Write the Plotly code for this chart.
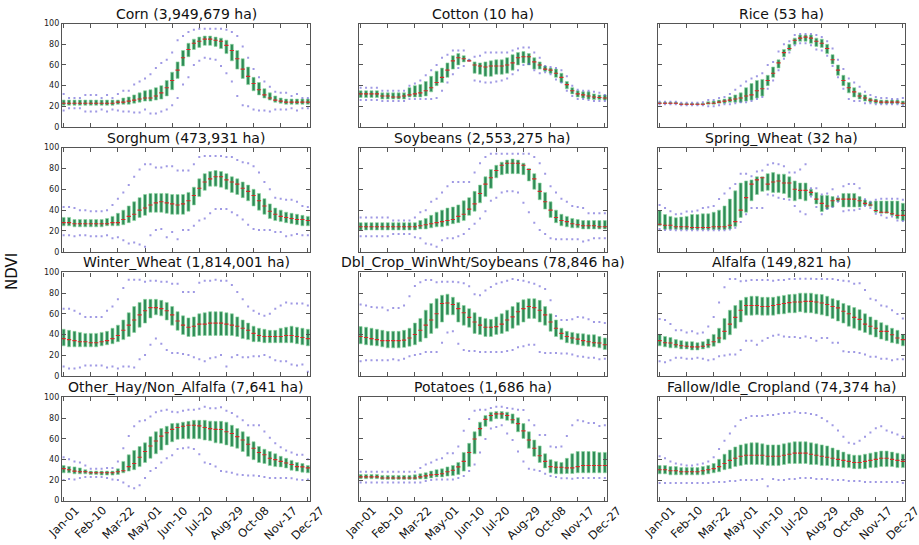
import plotly.graph_objects as go

tick_labels = ["Jan-01", "Feb-10", "Mar-22", "May-01", "Jun-10", "Jul-20", "Aug-29", "Oct-08", "Nov-17", "Dec-27"]
tick_positions = [0, 5, 10, 15, 20, 25, 30, 35, 40, 45]
steps = list(range(46))

titles = ["Corn (3,949,679 ha)", "Cotton (10 ha)", "Rice (53 ha)",
          "Sorghum (473,931 ha)", "Soybeans (2,553,275 ha)", "Spring_Wheat (32 ha)",
          "Winter_Wheat (1,814,001 ha)", "Dbl_Crop_WinWht/Soybeans (78,846 ha)", "Alfalfa (149,821 ha)",
          "Other_Hay/Non_Alfalfa (7,641 ha)", "Potatoes (1,686 ha)", "Fallow/Idle_Cropland (74,374 ha)"]

# ---------------- Corn
corn_med = [23,23,23,23,23,23,23,23,23,23, 24,24,25,26,27,28,28,30,33,38, 45,55,67,75,81,83,85,85,84,83, 79,74,66,56,49,42,36,31,28,26, 25,24,24,24,24,24]
corn_q1 = [21,21,21,21,21,21,21,21,21,21, 22,22,22,23,24,25,25,26,27,30, 36,47,59,68,75,77,79,79,78,76, 71,64,56,47,41,35,31,28,26,24, 23,22,22,22,22,22]
corn_q3 = [26,26,26,26,26,26,26,26,26,26, 26,28,29,31,33,35,36,38,40,45, 53,63,74,81,85,87,88,88,87,86, 84,80,74,66,58,48,43,37,33,30, 28,27,27,27,27,27]
corn_hi = [32,28,28,28,31,31,31,28,31,28, 32,35,35,41,44,47,51,57,62,65, 72,84,88,92,94,95,95,95,95,95, 94,92,88,78,67,56,48,44,39,34, 33,33,30,32,28,28]
corn_lo = [16,18,18,18,15,15,15,17,15,17, 16,15,15,14,14,17,13,13,15,17, 21,28,41,48,60,64,67,66,65,59, 52,44,30,21,20,17,16,16,15,17, 17,17,18,16,18,18]

# ---------------- Cotton
cotton_med = [32,32,32,32,30,30,29,29,30,31, 32,33,35,38,43,48,55,64,67,66, 64,60,59,58,59,59,59,60,62,67, 68,68,63,60,56,55,52,48,41,35, 32,31,30,29,28.5,28]
cotton_q1 = [28.5,28.5,28.5,28.5,27,27,27,27,27,29, 29,29,30,34,40,43,48,56,60,63, 64,52,51,49,49,51,51,52,55,60, 62,60,56,56,54,52,48,43,37,32, 29,28,27,26.5,26.5,26]
cotton_q3 = [35,35,35,35,33,33,33,33,33,38, 40,41,44,49,54,57,62,69,71,69, 65,63,62,63,64,65,65,67,70,72, 73,71,67,63,59,57,56,52,44,38, 35,34,34,32,31,31]
cotton_hi = [38,38,38,38,35,35,35,35,35,40, 42,45,50,55,60,67,70,74,74,74, 65,68,69,72,72,72,72,72,74,76, 77,77,72,67,59,58,57,55,49,40, 36,35,35,34,33,31]
cotton_lo = [26,26,26,26,25,25,25,25,25,27, 27,27,27,27,28,35,43,51,57,59, 64,45,44,43,43,44,45,47,51,55, 60,61,55,52,53,51,46,43,35,30, 27,27,26,25,25,25]

# ---------------- Rice
rice_med = [23,23,23,23,22,22,22,22,22,23, 23,24,25,26,27,28,30,31,35,37, 45,52,62,72,76,84,86,87,86,83, 81,76,65,55,45,38,34,30,28,26, 25,24,24,24,24,23]
rice_q1 = [22.5,22.5,22.5,22.5,21.5,21.5,21.5,21.5,21.5,22, 22,23,23,24,24,24,25,26,28,30, 40,48,57,68,74,80,83,83,81,78, 77,71,61,50,40,33,29,27,25,24, 23,22.5,22.5,22.5,22.5,22]
rice_q3 = [24,24,24,24,23,23,23,23,23,24.5, 25,26,27,29,31,33,38,42,45,46, 50,58,65,75,80,86,89,89,89,86, 85,80,70,60,50,43,38,33,31,28, 27,26,26,26,26,25]
rice_hi = [24.5,24.5,24.5,24.5,23.5,23.5,23.5,23.5,24,26, 26,28,29,32,36,40,44,47,49,52, 60,63,73,80,83,89,90,90,90,89, 87,83,76,65,56,47,43,39,34,31, 29,28,28,27,27,28]
rice_lo = [22,22,22,22,21,21,21,21,21,20, 20,21,22,22,23,24,24,25,27,29, 37,45,55,66,72,79,81,81,79,75, 74,69,59,48,37,27,25,25,23,23, 22,22,22,22,22,21]

# ---------------- Sorghum
sorghum_med = [28,28,27,27,27,27,27,27,27,28, 28,31,34,36,40,42,45,47,48,47, 46,45,46,49,54,61,67,70,72,72, 69,67,65,61,58,54,49,44,39,36, 34,33,32,31,31,30]
sorghum_q1 = [25,25,24,24,24,24,24,24,25,25, 25,26,28,30,33,35,38,38,38,37, 36,36,36,39,45,53,59,63,63,62, 60,57,55,52,49,44,40,36,32,30, 29,28,27,26,25,25]
sorghum_q3 = [33,33,31,31,31,31,31,31,32,34, 37,40,44,48,52,55,56,56,56,56, 55,55,55,57,62,70,75,77,78,77, 75,72,70,67,64,60,56,51,46,42, 40,38,37,36,35,34]
sorghum_hi = [43,43,42,40,40,39,39,39,40,45, 51,57,64,72,79,84,84,81,81,82, 82,78,78,78,84,91,92,92,92,92, 91,91,88,86,85,82,76,67,60,52, 51,50,50,48,44,43]
sorghum_lo = [16,16,15,16,16,15,15,15,16,13, 14,11,8,9,7,5,16,21,22,14, 19,12,21,21,25,30,32,37,41,41, 41,38,35,31,26,22,21,21,21,19, 19,15,16,17,16,16]

# ---------------- Soybeans
soy_med = [24,24,24,24,24,24,24,24,24,24, 24,25,26,27,28,29,30,31,34,36, 41,46,56,65,71,78,83,85,85,85, 83,79,70,58,48,40,33,30,29,27, 26,25,25,25,24,24]
soy_q1 = [21,21,21,21,21,21,21,21,21,21, 21,22,22,23,24,24,25,27,28,30, 35,39,47,53,61,71,74,75,75,75, 74,68,60,50,41,33,28,25,24,23, 23,22,22,22,22,22]
soy_q3 = [28,28,28,28,28,28,28,28,28,28, 28,30,32,35,38,40,42,43,45,49, 52,58,64,72,79,83,86,88,89,88, 85,80,75,66,57,48,40,36,34,32, 31,30,30,30,30,30]
soy_hi = [33,33,33,33,33,33,30,30,30,30, 33,38,40,48,51,57,63,67,67,67, 67,76,85,91,94,94,94,94,94,94, 94,94,91,85,75,63,57,51,48,44, 43,42,37,37,37,37]
soy_lo = [15,15,15,15,15,15,17,17,17,17, 14,13,8,7,5,11,13,13,15,17, 22,27,32,39,49,52,57,58,58,57, 47,38,28,21,17,13,12,12,12,12, 12,10,11,13,13,13]

# ---------------- Spring_Wheat
spw_med = [26.5,25.5,25.5,24,24,24,23.3,23.3,23.3,23.3, 24,24,24,25.5,29,40,52,65,69,71, 65,67,68,66,66,60,59,59,57,50.6, 46.5,44,49,50.6,50.6,50.6,50.6,49,46.5,45, 39.6,38,38,36.5,35,35]
spw_q1 = [25,21.7,21.7,21.7,21.4,21.4,21.4,21.4,21.4,21.4, 21.4,21.4,21.4,22,24.5,33,38,49,55,58, 59,57,57,56,52,49,50.6,49,54,46, 38.7,41,43,48.4,43,43,43,43,44.6,43.7, 38,37,37,35,31.8,30]
spw_q3 = [39.6,35.8,34,32.7,33.3,34,35.8,35.8,36.5,36.5, 38,40,44,50.6,58.5,66,68,69,72,72, 75,76,74.5,74.5,72,68,66,66,60,57, 54,54,53,52,56,56,56,53,49.7,48, 48.7,48.7,48.7,48.7,48.7,46.5]
spw_hi = [45,42,39,36,36.5,38.7,38.7,39.6,42,42.8, 44,50.6,56,61,65,75,75,72.6,77,78, 83.6,85,84,82,76,76,79,84,61,61, 55,56,60,53,63,65,65,61,50.5,48, 50,51,51,51,51,50]
spw_lo = [22,21,21,20.8,20.8,20.8,20.8,20.8,20.8,20.8, 20.8,20.8,20.8,21.5,23,28.6,36,42,42,42, 55,54,52,50.6,50,44,38.7,36,53,43, 36,41,43,48,39,40,40,41,44,42, 36.5,35,32.7,34,30,29.6]

# ---------------- Winter_Wheat
ww_med = [36,35,34,33,33,32,32,33,34,36, 39,44,49,54,59,63,66,66,65,63, 59,53,49,47,48,50,50,51,51,51, 50,49,48,46,44,41,39,38,38,38, 38,39,39,38,37,36]
ww_q1 = [29,28,28,28,28,28,28,29,30,31, 33,35,38,42,47,51,56,59,58,54, 49,44,40,38,38,39,39,39,39,39, 39,39,38,36,35,33,33,32,32,32, 32,32,32,31,30,29]
ww_q3 = [45,44,43,42,41,41,41,42,43,46, 49,54,61,67,71,74,74,74,73,71, 67,62,58,56,57,60,61,62,62,62, 61,60,57,54,51,48,46,45,44,44, 46,47,48,47,46,45]
ww_hi = [65,65,63,60,57,57,57,57,63,67, 74,85,93,93,93,91,92,92,91,91, 89,89,81,81,81,90,92,92,93,92, 92,88,81,74,67,63,60,58,60,65, 68,71,70,70,70,68]
ww_lo = [9,7,7,8,10,10,10,10,8,9, 7,9,9,8,16,20,30,36,31,25, 22,22,21,20,18,16,14,17,18,20, 9,18,20,18,18,19,19,20,18,15, 14,14,11,10,11,4]

# ---------------- Dbl_Crop_WinWht/Soybeans
dbl_med = [38,37,36,35,34,34,34,34,34.5,36.5, 40,44,49,54,60,70,70.5,69,65,61, 56.5,52,49,47,47,47.6,50,54,57,62, 65,67,66,63.5,59,52,46,41,38,36.5, 35.5,34,33,32,31.7,30]
dbl_q1 = [31,30,29.5,29,28,27,27,27,27.5,28.6, 30,33,36.5,41,46,52,59,59,52,49, 47,41,40,38,38,40,41,43,46,49, 52,55.5,55.5,52,49,43,38,35,32,31, 30,29,28.6,28,27,25.4]
dbl_q3 = [47.6,47,46,45,44,43,43,43,44,46, 51,55.5,63.5,70,74.6,78,79,76,71,68, 65,61,57,55.5,54.6,57,60,63.5,67,71, 73.6,74.6,74.6,73,67,60,54,46,43,42, 41,40.6,39.7,39.7,38,36.5]
dbl_hi = [69,68,66.7,66,66,63.5,65.7,65.7,68,77, 87,90.5,92.7,92.7,90.5,91,91,91,90.5,89.5, 86.7,79,78,82.5,86,89,90.5,92,93.7,92.7, 92,90.5,89,86.7,84,73,57.8,54,54,54.6, 57,56.5,54.6,52,52,51]
dbl_lo = [14,15,15,15,15,15,16,15,16.5,19, 20,21,23,23,23,32,42,43,31,25, 24,24,23,23,23,23,23,24,25,27.6, 28.6,30,30,23,22,22,22,21.6,21.6,20.6, 19,18.4,17.5,17.5,16,16.5]

# ---------------- Alfalfa
alf_med = [34,32,31.7,30,29,28.6,28,28,28.6,30, 33,36.5,43,50,56.5,63.5,68,68,68,67, 67,68,69,70,70.8,71.4,71.4,72,72,71.4, 70.5,69,67,65.7,62.5,60,56.5,54.6,50,48, 46,43,43,39.7,36.5,35]
alf_q1 = [29,28,27,27,26,26,25,25,26,27, 28.6,31.7,35,39.7,46,52,58.7,58.7,59,58.7, 58.7,58.7,59.7,60,61,61,62,61,61,60, 59,57.8,55.5,53,51,48,46,44,42,39.7, 37.5,35.5,34,32,31,29]
alf_q3 = [40,38,37,35,34,33,33,32,33,35.5, 40,46,55.5,63.5,68,73,76,77,77,76, 76,76,77,77.8,78.7,79,80,80,80,79, 78.7,77,74.6,73,70,68,66,64,60,57, 54,51.4,49,46,44,40]
alf_hi = [55,54,50,44,44,42,43,41,42,47.6, 57,71,85.7,93.7,93.7,91.4,92,92.7,92.7,92.7, 92.7,92,92.7,92.7,93.7,93.7,94,94,94,93.7, 93.7,93.7,93.7,92.7,92,91.4,89,89.5,83,74.6, 73,68,67,63.5,59.7,55.5]
alf_lo = [14,13,15,17.5,17.5,16.5,16.5,17.5,16.5,15, 16,19,19.7,20.6,20.6,25,34,34,30,34, 36.5,38.7,39.7,38,37.5,37.5,36.5,38,36.5,34, 36.5,36.5,32,32,23.8,22.9,22.9,22,20.6,18.4, 18.4,16.5,16.5,15,16,16]

# ---------------- Other_Hay/Non_Alfalfa
hay_med = [31,30,28.6,28,28,27,27,27,27,27, 28,29,33,36,42,47.6,53,57.8,62.5,65.7, 69,70.8,72,73,73,72.4,70.8,69.8,69,68.9, 66.7,65,62,58.7,54.6,50.8,46.7,44.4,41,39.7, 38,36.5,35,33,32.7,31.7]
hay_q1 = [27,27,26,26,26,25.4,25.4,24.8,24.8,24.8, 25.4,27,28.6,30,33,37,41,45.4,49,54, 57,59.4,60,60,60,60,58.7,58,56,55.5, 54,52.4,50.8,47.6,42.9,39.7,37,36,34,33, 32.7,31.7,29.5,28.6,27.6,27]
hay_q3 = [34,33,32.7,31.7,30,28.6,28.6,28.6,28.6,28.6, 30.8,38,44.4,48.6,52.4,56,62,66.7,69.8,72, 74.6,75,76,76.8,77.8,77.8,77.8,77,76.8,76.8, 76,73,69.8,66.7,62,57,52.4,49.8,47.6,45.4, 42.9,41,39,37,35.9,34]
hay_hi = [42,40,38,37,34,31,31,31,31.7,31.7, 38,50.8,62.5,72,77,77.8,81.6,85.7,87,88, 86,85.7,87,88,88,88.9,91,89.5,89.5,90.5, 87,84.8,81.6,77.8,73,73,73,67,61,55.5, 51.7,48.6,46.7,44.4,44.4,40]
hay_lo = [20,21,20.6,22,23,23,23,23,22,20.6, 20,17.5,14,12,15,22,28.6,31.7,37,41, 44,50,50.8,51.4,50,45,37,35.5,33,28.6, 28,27,25.4,24.8,24.4,24.4,23.8,23,22,22, 22,22,21.6,20.6,20,20.6]

# ---------------- Potatoes
pot_med = [23,23,23,23,22,22,22,22,22,22, 22,23,24,25,25.4,26,28,29.5,32.7,38, 46.7,59.7,69.8,78.7,82.5,84,84,82.5,78.4,74.6, 67.6,58.7,50.8,43.5,38,33,32.4,32.4,31.7,31.7, 33,34,34,34,34,34]
pot_q1 = [21.3,21.3,21.3,21.3,20.6,20.6,20.6,20.6,20.6,20.6, 20.6,21,21,22,23,23,23.8,24.4,25.4,28.6, 33,45.4,62.5,72,77,79.4,79.4,77.8,74.6,66.7, 60.3,50.8,42.9,37,31.7,27,26,26,26.3,26.3, 27,27,27,27,27,27]
pot_q3 = [25.4,25.4,25.4,25.4,24.4,24.4,24.4,24.4,24.4,24.4, 25,26,27,28.6,30,30.8,32.7,34,37,46.7, 55.5,66.7,76,82.5,85.7,86.3,86.3,85.7,84,80.3, 74.6,66.7,58.7,53,45.4,39.7,38,37,41,45.4, 47.6,47.6,47.6,47.6,46.7,46.7]
pot_hi = [28,28,28,28,28,28,28,28,28,28, 28,31.7,35,37,39.7,41,46,46,52.4,67.6, 79,87,88,88,89.8,91,91,89.8,88.9,88, 87.9,77.8,73,63.5,63.5,52.4,51.7,52.4,62.5,73, 77.8,76.8,75.2,75.2,72.4,73]
pot_lo = [17.5,17.5,17.5,17.5,17.5,17.5,17.5,17.5,17.5,17.5, 17.5,17.5,19,20,20.6,20.6,20.6,20.6,22,23.8, 28.6,35,46.7,59.7,69.8,71.4,73,65,58.7,47.6, 38,31,30,28.6,26,23.8,22.9,21.6,21.6,21.3, 22,22,22,22,22,22]

# ---------------- Fallow/Idle_Cropland
fal_med = [30,30,29,29,28,28,28,28,29,30, 31,33,36,39,41,43,44,44,44,44, 43,43,43,44,45,46,46,46,45,44, 43,42,41,40,39,38,37,37,38,39, 40,41,41,40,39,38]
fal_q1 = [26,26,25,25,25,25,25,25,25,26, 27,28,30,31,33,34,35,35,35,35, 34,34,34,35,36,36,36,36,35,35, 34,34,33,33,32,32,31,31,31,32, 32,33,33,33,32,32]
fal_q3 = [34,34,33,33,32,32,32,32,33,34, 36,40,45,49,52,54,55,56,56,55, 54,54,54,55,56,57,57,57,56,55, 54,53,51,49,47,45,44,44,45,46, 47,48,48,47,46,45]
fal_hi = [43,41,38,36,35,34,34,35,36,38, 42,50,58,65,72,78,80,82,82,82, 83,83,84,85,85,86,85,85,84,83, 80,77,73,68,62,56,55,58,62,66, 70,72,68,66,64,62]
fal_lo = [17,17,17,17,17,17,17,17,17,17, 18,18,18,19,19,20,20,20,20,21, 14,21,20,20,21,21,22,22,22,21, 21,21,20,20,20,19,19,19,18,18, 18,18,18,18,18,17]

panels = [
    (corn_lo, corn_q1, corn_med, corn_q3, corn_hi),
    (cotton_lo, cotton_q1, cotton_med, cotton_q3, cotton_hi),
    (rice_lo, rice_q1, rice_med, rice_q3, rice_hi),
    (sorghum_lo, sorghum_q1, sorghum_med, sorghum_q3, sorghum_hi),
    (soy_lo, soy_q1, soy_med, soy_q3, soy_hi),
    (spw_lo, spw_q1, spw_med, spw_q3, spw_hi),
    (ww_lo, ww_q1, ww_med, ww_q3, ww_hi),
    (dbl_lo, dbl_q1, dbl_med, dbl_q3, dbl_hi),
    (alf_lo, alf_q1, alf_med, alf_q3, alf_hi),
    (hay_lo, hay_q1, hay_med, hay_q3, hay_hi),
    (pot_lo, pot_q1, pot_med, pot_q3, pot_hi),
    (fal_lo, fal_q1, fal_med, fal_q3, fal_hi),
]

W, H = 919, 545
col_px = [(62, 310), (359, 607), (658, 905)]
row_px = [(20, 125), (146, 252), (273, 378), (400, 505)]

FONT = "DejaVu Sans"
fig = go.Figure()
annotations = []
layout_axes = {}

for k, (lo, q1, med, q3, hi) in enumerate(panels):
    r, c = divmod(k, 3)
    n = k + 1
    xa = "x" if n == 1 else f"x{n}"
    ya = "y" if n == 1 else f"y{n}"
    xd = [col_px[c][0] / W, col_px[c][1] / W]
    yd = [1 - row_px[r][1] / H, 1 - row_px[r][0] / H]

    fig.add_trace(go.Bar(
        x=steps, y=[b - a for a, b in zip(q1, q3)], base=q1, width=0.54,
        marker=dict(color="rgb(46,139,87)", line=dict(color="rgba(140,215,160,0.7)", width=0.9)),
        xaxis=xa, yaxis=ya, showlegend=False, hoverinfo="skip"))
    fig.add_trace(go.Scatter(
        x=steps + steps, y=list(lo) + list(hi), mode="markers",
        marker=dict(symbol="square", size=2, color="rgba(95,85,210,0.6)", line=dict(width=0)),
        xaxis=xa, yaxis=ya, showlegend=False, hoverinfo="skip"))
    fig.add_trace(go.Scatter(
        x=steps, y=med, mode="markers",
        marker=dict(symbol="line-ew", size=3, line=dict(color="rgb(215,40,40)", width=1.1)),
        xaxis=xa, yaxis=ya, showlegend=False, hoverinfo="skip"))

    axis_common = dict(showline=True, linecolor="#555", linewidth=1.2, mirror="ticks",
                       ticks="inside", ticklen=4, tickcolor="#555", showgrid=False, zeroline=False)
    layout_axes["xaxis" if n == 1 else f"xaxis{n}"] = dict(
        domain=xd, anchor=ya, range=[-0.3, 45.4], tickvals=tick_positions,
        ticktext=tick_labels, showticklabels=False, **axis_common)
    layout_axes["yaxis" if n == 1 else f"yaxis{n}"] = dict(
        domain=yd, anchor=xa, range=[0, 100], tickvals=[0, 20, 40, 60, 80, 100],
        showticklabels=(c == 0), tickfont=dict(family=FONT, size=8, color="#222"), **axis_common)

    annotations.append(dict(
        text=titles[k], x=(xd[0] + xd[1]) / 2, y=yd[1], xref="paper", yref="paper",
        xanchor="center", yanchor="bottom", showarrow=False, yshift=0,
        font=dict(family=FONT, size=14, color="#111")))

    if r == 3:
        for tv, tl in zip(tick_positions, tick_labels):
            annotations.append(dict(
                text=tl, x=tv, y=yd[0], xref=xa, yref="paper",
                xanchor="center", yanchor="top", textangle=-45, showarrow=False, yshift=0,
                font=dict(family=FONT, size=11.5, color="#111")))

annotations.append(dict(text="NDVI", x=12 / W, y=0.5, xref="paper", yref="paper",
                        textangle=-90, showarrow=False, xanchor="center", yanchor="middle",
                        font=dict(family=FONT, size=15, color="#111")))

fig.update_layout(
    width=W, height=H, margin=dict(l=0, r=0, t=0, b=0),
    paper_bgcolor="white", plot_bgcolor="white", barmode="overlay",
    annotations=annotations, **layout_axes)

fig.write_html("out.html")
